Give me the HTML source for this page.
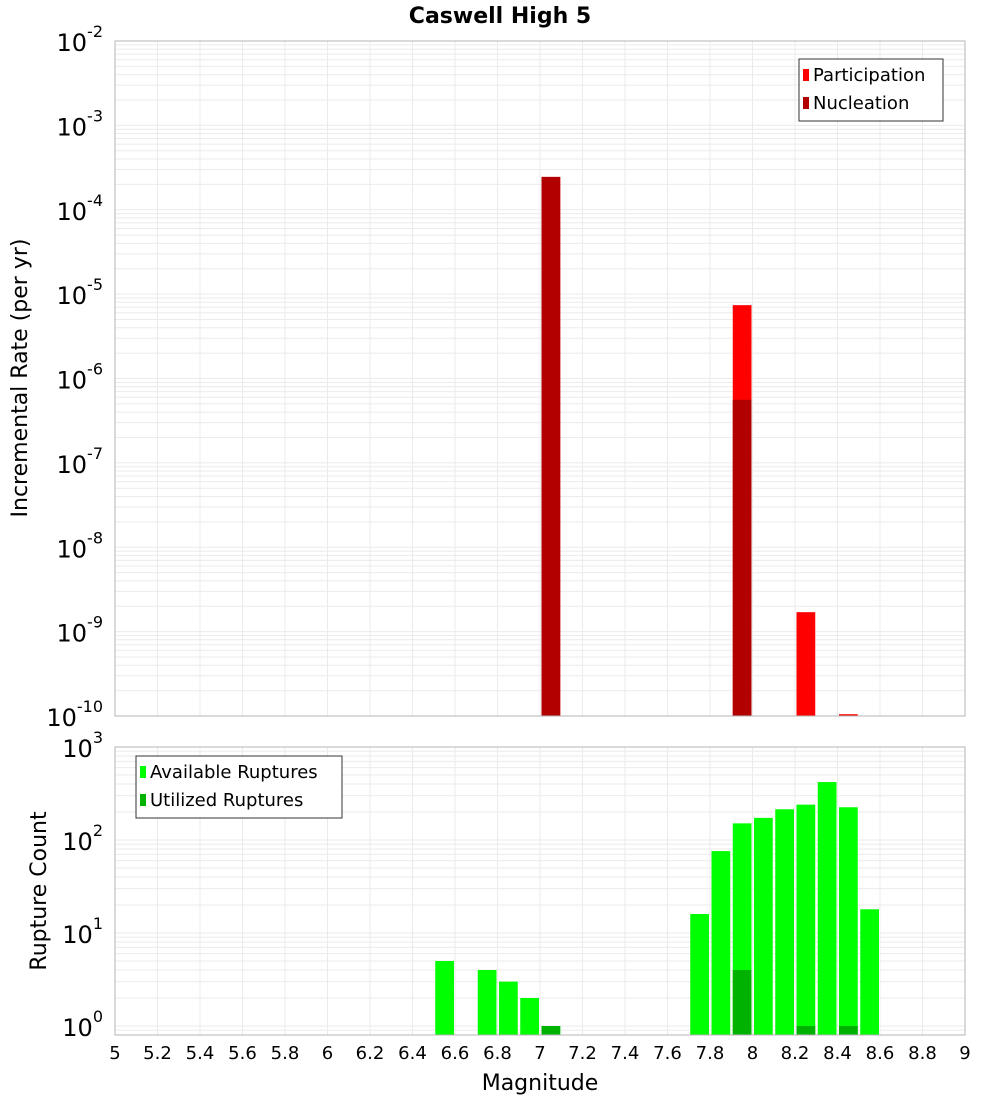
<!DOCTYPE html>
<html><head><meta charset="utf-8">
<style>
body{margin:0;background:#fff;font-family:"DejaVu Sans","Liberation Sans",sans-serif;}
svg text{font-family:"DejaVu Sans","Liberation Sans",sans-serif;}
</style></head>
<body>
<svg id="chart" width="1000" height="1100" xmlns="http://www.w3.org/2000/svg">
<text x="500" y="23" text-anchor="middle" font-size="22" font-weight="bold">Caswell High 5</text>
<g id="top"></g>
<g id="bot"></g>
<text x="540" y="1090" text-anchor="middle" font-size="22">Magnitude</text>
<text transform="translate(27,378) rotate(-90)" text-anchor="middle" font-size="22">Incremental Rate (per yr)</text>
<text transform="translate(46,891) rotate(-90)" text-anchor="middle" font-size="22">Rupture Count</text>
</svg>
<script>
const partMags=[7.05,7.95,8.25,8.45];
const partVals=[2.45e-4,7.4e-6,1.7e-9,1.05e-10];
const nuclMags=[7.05,7.95];
const nuclVals=[2.45e-4,5.6e-7];
const availMags=[6.55,6.75,6.85,6.95,7.05,7.75,7.85,7.95,8.05,8.15,8.25,8.35,8.45,8.55];
const availVals=[5,4,3,2,1,16,76,151,173,214,240,420,225,18];
const utilMags=[7.05,7.95,8.25,8.45];
const utilVals=[1,4,1,1];
const xTicks=["5","5.2","5.4","5.6","5.8","6","6.2","6.4","6.6","6.8","7","7.2","7.4","7.6","7.8","8","8.2","8.4","8.6","8.8","9"];

const NS="http://www.w3.org/2000/svg";
const X0=115,X1=965;
const xs=m=>X0+(m-5)/4*(X1-X0);
function mk(tag,attrs,parent){const e=document.createElementNS(NS,tag);for(const k in attrs)e.setAttribute(k,attrs[k]);parent.appendChild(e);return e;}

function panel(g,top,bottom,lmin,lmax,ticks){
  const ys=v=>bottom-(Math.log10(v)-lmin)/(lmax-lmin)*(bottom-top);
  // grid
  for(let d=Math.floor(lmin);d<Math.ceil(lmax);d++){
    for(let k=1;k<10;k++){const v=k*Math.pow(10,d);const y=ys(v);if(y<top-0.5||y>bottom+0.5)continue;
      const l=mk('line',{x1:X0,x2:X1,y1:y,y2:y,stroke:'#ebebeb','stroke-width':1},g);
      
      }
  }
  xTicks.forEach(t=>{const x=xs(+t);const l=mk('line',{x1:x,x2:x,y1:top,y2:bottom,stroke:'#ebebeb','stroke-width':1},g);
    
    });
  // y tick labels
  ticks.forEach(p=>{const y=ys(Math.pow(10,p));
    const t=mk('text',{x:X0-12,y:y+10,'text-anchor':'end','font-size':24},g);
    
    
    t.textContent='10';
    const s=mk('tspan',{dy:-14,'font-size':16},t);s.textContent=String(p);});
  return ys;
}
function bars(g,ys,bottom,mags,vals,color,name){
  mags.forEach((m,i)=>{const x=xs(m-0.05)+1.5,w=xs(m+0.05)-xs(m-0.05)-2.5;const y=ys(vals[i]);
    const r=mk('rect',{x:x,y:y,width:w,height:Math.max(bottom-y,1),fill:color},g);
    
    });
}
function frame(g,top,bottom){const r=mk('rect',{x:X0,y:top,width:X1-X0,height:bottom-top,fill:'none',stroke:'#b4b4b4','stroke-width':1},g);
  
  }
function legend(g,x,y,w,items){
  const b=mk('rect',{x:x,y:y,width:w,height:items.length*28+6,fill:'#fff',stroke:'#333','stroke-width':1},g);
  
  
  items.forEach((it,i)=>{const r=mk('rect',{x:x+4,y:y+10+i*28,width:6,height:12,fill:it[1]},g);
    
    
    const t=mk('text',{x:x+14,y:y+22+i*28,'font-size':18},g);
    
    
    t.textContent=it[0];});
}
const gt=document.getElementById('top'),gb=document.getElementById('bot');
const T0=41,T1=716,B0=747,B1=1035;
const yt=panel(gt,T0,T1,-10,-2,[-10,-9,-8,-7,-6,-5,-4,-3,-2]);
bars(gt,yt,T1,partMags,partVals,'#ff0000','participation-bar');
bars(gt,yt,T1,nuclMags,nuclVals,'#b20000','nucleation-bar');
frame(gt,T0,T1);
legend(gt,799,59,144,[['Participation','#ff0000'],['Nucleation','#b20000']]);
const lminB=3-(B1-B0)/93;
const yb=panel(gb,B0,B1,lminB,3,[0,1,2,3]);
bars(gb,yb,B1,availMags,availVals,'#00ff00','available-bar');
bars(gb,yb,B1,utilMags,utilVals,'#00b200','utilized-bar');
frame(gb,B0,B1);
legend(gb,136,756,206,[['Available Ruptures','#00ff00'],['Utilized Ruptures','#00b200']]);
xTicks.forEach(t=>{const e=mk('text',{x:xs(+t),y:1059,'text-anchor':'middle','font-size':18},gb);
  
  
  e.textContent=t;});
</script>
</body></html>
